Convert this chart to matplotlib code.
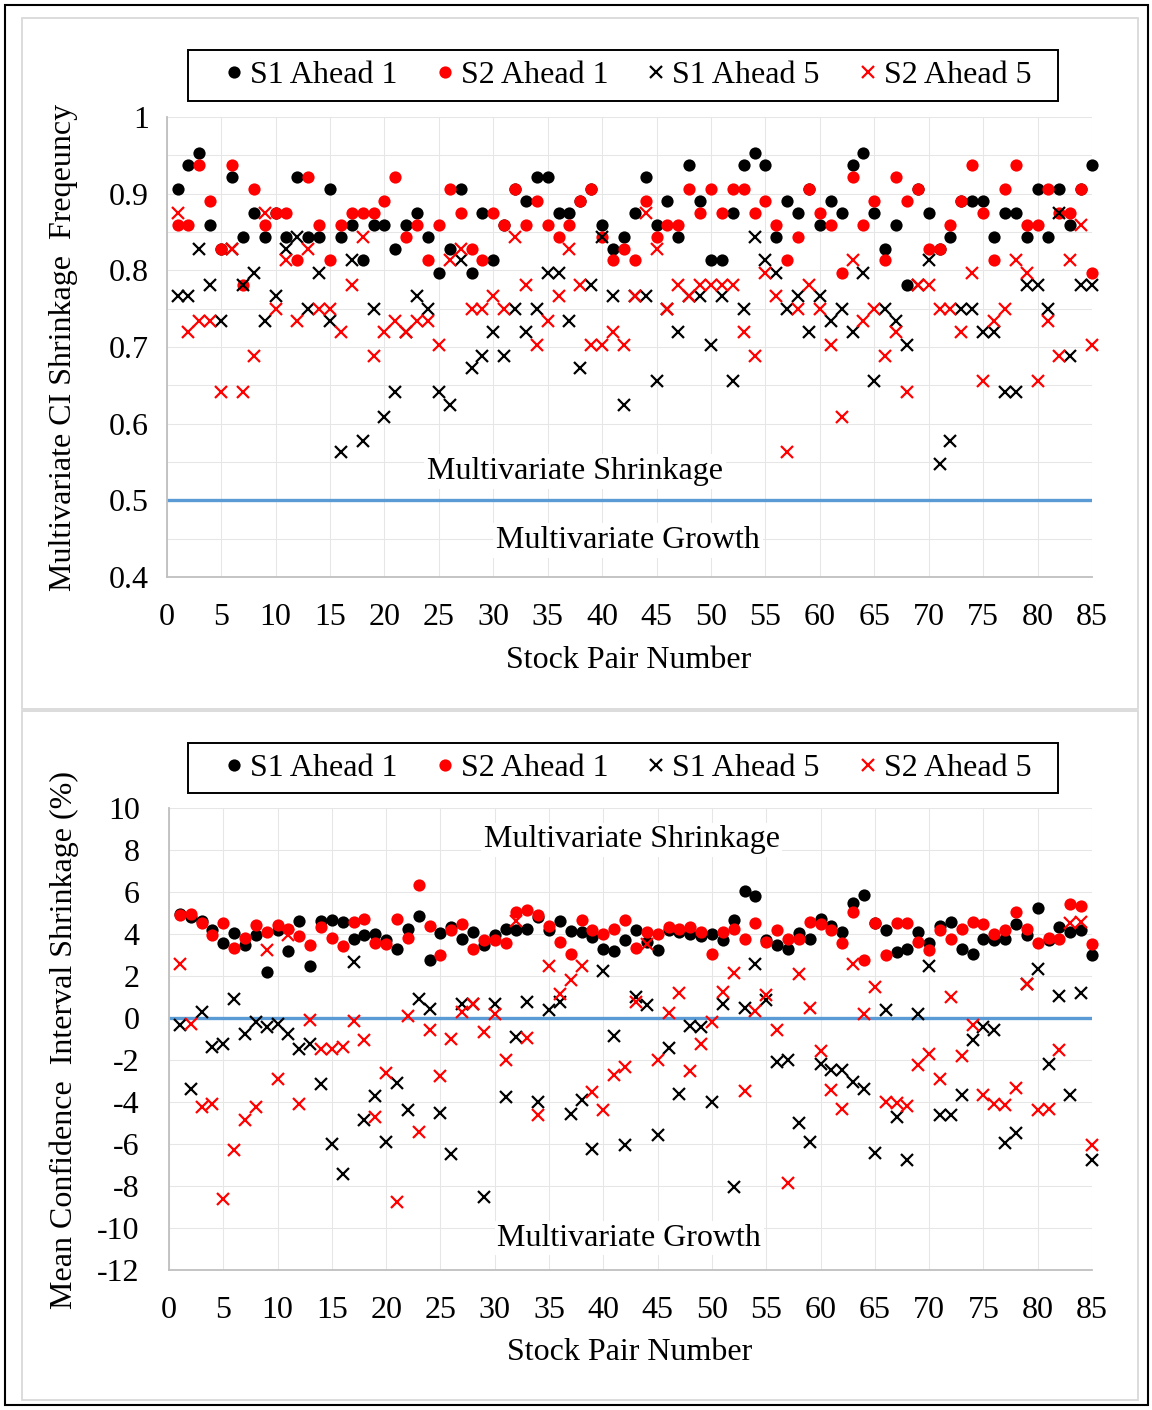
import matplotlib
matplotlib.use("Agg")
import matplotlib.pyplot as plt
from matplotlib.patches import Rectangle
from matplotlib.lines import Line2D
from matplotlib.ticker import MultipleLocator

plt.rcParams['font.family'] = ['Liberation Serif', 'DejaVu Serif']
plt.rcParams['axes.unicode_minus'] = False

pairs = list(range(1, 86))
series_names = ["S1 Ahead 1", "S2 Ahead 1", "S1 Ahead 5", "S2 Ahead 5"]

# ---------- Top panel: Multivariate CI shrinkage frequency ----------
freq_s1_a1 = [0.906, 0.938, 0.953, 0.859, 0.828, 0.922, 0.844, 0.875, 0.844, 0.875,
              0.844, 0.922, 0.844, 0.844, 0.906, 0.844, 0.859, 0.813, 0.859, 0.859,
              0.828, 0.859, 0.875, 0.844, 0.797, 0.828, 0.906, 0.797, 0.875, 0.813,
              0.859, 0.906, 0.891, 0.922, 0.922, 0.875, 0.875, 0.891, 0.906, 0.859,
              0.828, 0.844, 0.875, 0.922, 0.859, 0.891, 0.844, 0.938, 0.891, 0.813,
              0.813, 0.875, 0.938, 0.953, 0.938, 0.844, 0.891, 0.875, 0.906, 0.859,
              0.891, 0.875, 0.938, 0.953, 0.875, 0.828, 0.859, 0.781, 0.906, 0.875,
              0.828, 0.844, 0.891, 0.891, 0.891, 0.844, 0.875, 0.875, 0.844, 0.906,
              0.844, 0.906, 0.859, 0.906, 0.938]
freq_s2_a1 = [0.859, 0.859, 0.938, 0.891, 0.828, 0.938, 0.781, 0.906, 0.859, 0.875,
              0.875, 0.813, 0.922, 0.859, 0.813, 0.859, 0.875, 0.875, 0.875, 0.891,
              0.922, 0.844, 0.859, 0.813, 0.859, 0.906, 0.875, 0.828, 0.813, 0.875,
              0.859, 0.906, 0.859, 0.891, 0.859, 0.844, 0.859, 0.891, 0.906, 0.844,
              0.813, 0.828, 0.813, 0.891, 0.844, 0.859, 0.859, 0.906, 0.875, 0.906,
              0.875, 0.906, 0.906, 0.875, 0.891, 0.859, 0.813, 0.844, 0.906, 0.875,
              0.859, 0.797, 0.922, 0.859, 0.891, 0.813, 0.922, 0.891, 0.906, 0.828,
              0.828, 0.859, 0.891, 0.938, 0.875, 0.813, 0.906, 0.938, 0.859, 0.859,
              0.906, 0.875, 0.875, 0.906, 0.797]
freq_s1_a5 = [0.766, 0.766, 0.828, 0.781, 0.734, 0.828, 0.781, 0.797, 0.734, 0.766,
              0.828, 0.844, 0.750, 0.797, 0.734, 0.563, 0.813, 0.578, 0.750, 0.609,
              0.641, 0.719, 0.766, 0.750, 0.641, 0.625, 0.813, 0.672, 0.688, 0.719,
              0.688, 0.750, 0.719, 0.750, 0.797, 0.797, 0.734, 0.672, 0.781, 0.844,
              0.766, 0.625, 0.766, 0.766, 0.656, 0.750, 0.719, 0.766, 0.766, 0.703,
              0.766, 0.656, 0.750, 0.844, 0.813, 0.797, 0.750, 0.766, 0.719, 0.766,
              0.734, 0.750, 0.719, 0.797, 0.656, 0.750, 0.734, 0.703, 0.781, 0.813,
              0.547, 0.578, 0.750, 0.750, 0.719, 0.719, 0.641, 0.641, 0.781, 0.781,
              0.750, 0.875, 0.688, 0.781, 0.781]
freq_s2_a5 = [0.875, 0.719, 0.734, 0.734, 0.641, 0.828, 0.641, 0.688, 0.875, 0.750,
              0.813, 0.734, 0.828, 0.750, 0.750, 0.719, 0.781, 0.844, 0.688, 0.719,
              0.734, 0.719, 0.734, 0.734, 0.703, 0.813, 0.828, 0.750, 0.750, 0.766,
              0.750, 0.844, 0.781, 0.703, 0.734, 0.766, 0.828, 0.781, 0.703, 0.703,
              0.719, 0.703, 0.766, 0.875, 0.828, 0.750, 0.781, 0.766, 0.781, 0.781,
              0.781, 0.781, 0.719, 0.688, 0.797, 0.766, 0.563, 0.750, 0.781, 0.750,
              0.703, 0.609, 0.813, 0.734, 0.750, 0.688, 0.719, 0.641, 0.781, 0.781,
              0.750, 0.750, 0.719, 0.797, 0.656, 0.734, 0.750, 0.813, 0.797, 0.656,
              0.734, 0.688, 0.813, 0.859, 0.703]

# ---------- Bottom panel: mean CI shrinkage (%) ----------
mean_s1_a1 = [4.97, 4.81, 4.62, 4.17, 3.57, 4.05, 3.46, 3.94, 2.19, 4.17,
              3.19, 4.62, 2.46, 4.60, 4.65, 4.57, 3.78, 3.94, 4.02, 3.70,
              3.30, 4.25, 4.84, 2.78, 4.05, 4.33, 3.78, 4.10, 3.46, 3.94,
              4.25, 4.17, 4.25, 4.81, 4.17, 4.62, 4.14, 4.10, 3.86, 3.30,
              3.19, 3.70, 4.21, 3.62, 3.25, 4.17, 4.10, 3.98, 3.89, 4.02,
              3.70, 4.65, 6.05, 5.79, 3.70, 3.46, 3.30, 4.05, 3.78, 4.73,
              4.37, 4.10, 5.48, 5.84, 4.52, 4.17, 3.14, 3.30, 4.10, 3.57,
              4.37, 4.57, 3.30, 3.03, 3.78, 3.73, 3.78, 4.49, 3.94, 5.25,
              3.73, 4.33, 4.10, 4.21, 2.98]
mean_s2_a1 = [4.89, 4.94, 4.52, 3.94, 4.52, 3.35, 3.83, 4.41, 4.10, 4.41,
              4.25, 3.89, 3.46, 4.33, 3.83, 3.41, 4.57, 4.73, 3.57, 3.51,
              4.73, 3.83, 6.32, 4.37, 2.98, 4.17, 4.49, 3.30, 3.73, 3.73,
              3.57, 5.05, 5.13, 4.89, 4.37, 3.62, 3.03, 4.65, 4.17, 3.98,
              4.25, 4.65, 3.35, 4.10, 4.02, 4.33, 4.25, 4.33, 4.10, 3.03,
              4.10, 4.25, 3.78, 4.52, 3.62, 4.21, 3.78, 3.78, 4.57, 4.49,
              4.17, 3.57, 5.05, 2.78, 4.52, 2.98, 4.52, 4.52, 3.62, 3.25,
              4.21, 3.78, 4.25, 4.57, 4.49, 4.02, 4.17, 5.05, 4.25, 3.57,
              3.83, 3.78, 5.44, 5.32, 3.51]
mean_s1_a5 = [-0.35, -3.37, 0.29, -1.38, -1.22, 0.92, -0.78, -0.19, -0.43, -0.27,
              -0.78, -1.46, -1.22, -3.13, -5.98, -7.41, 2.67, -4.87, -3.73, -5.90,
              -3.10, -4.37, 0.92, 0.44, -4.52, -6.46, 0.65, 0.68, -8.52, 0.65,
              -3.76, -0.90, 0.76, -4.00, 0.37, 0.76, -4.56, -3.92, -6.22, 2.24,
              -0.87, -6.06, 1.00, 0.60, -5.59, -1.41, -3.63, -0.40, -0.43, -4.00,
              0.65, -8.05, 0.49, 2.56, 0.87, -2.10, -2.02, -5.00, -5.90, -2.17,
              -2.49, -2.46, -3.05, -3.37, -6.43, 0.40, -4.71, -6.75, 0.17, 2.46,
              -4.63, -4.63, -3.68, -1.06, -0.43, -0.56, -5.95, -5.48, 1.60, 2.35,
              -2.17, 1.03, -3.68, 1.19, -6.75]
mean_s2_a5 = [2.59, -0.27, -4.24, -4.08, -8.60, -6.30, -4.84, -4.24, 3.22, -2.89,
              3.94, -4.08, -0.08, -1.46, -1.46, -1.38, -0.14, -1.03, -4.71, -2.62,
              -8.76, 0.08, -5.43, -0.59, -2.78, -0.98, 0.29, 0.68, -0.67, 0.21,
              -1.98, 4.60, -0.94, -4.63, 2.46, 1.13, 1.83, 2.46, -3.52, -4.37,
              -2.73, -2.33, 0.76, 3.51, -1.98, 0.24, 1.19, -2.52, -1.25, -0.19,
              1.24, 2.14, -3.48, 0.33, 1.08, -0.56, -7.86, 2.08, 0.49, -1.57,
              -3.41, -4.32, 2.59, 0.21, 1.48, -4.00, -4.05, -4.21, -2.25, -1.70,
              -2.89, 1.00, -1.83, -0.35, -3.68, -4.08, -4.16, -3.32, 1.60, -4.37,
              -4.32, -1.51, 4.52, 4.57, -6.06]

W, H = 1152, 1410
fig = plt.figure(figsize=(W / 100, H / 100), dpi=100)


def fx(px):
    return px / W


def fy(py):
    return 1 - py / H


# Borders
fig.patches.append(Rectangle((fx(5), fy(1405)), fx(1143), 1400 / H, transform=fig.transFigure,
                             fill=False, edgecolor='black', linewidth=1.5, zorder=0))
fig.patches.append(Rectangle((fx(22), fy(709)), fx(1116), 691 / H, transform=fig.transFigure,
                             fill=False, edgecolor='#d9d9d9', linewidth=1.3, zorder=0))
fig.patches.append(Rectangle((fx(22), fy(1400)), fx(1116), 689 / H, transform=fig.transFigure,
                             fill=False, edgecolor='#d9d9d9', linewidth=1.3, zorder=0))

FS = 23
MS = 8.8

styles = [dict(marker='o', color='black', markersize=MS, markeredgewidth=0),
          dict(marker='o', color='#ff0000', markersize=MS, markeredgewidth=0),
          dict(marker='x', color='black', markersize=MS * 0.95, markeredgewidth=1.6),
          dict(marker='x', color='#ff0000', markersize=MS * 0.95, markeredgewidth=1.6)]


def setup_axes(ax):
    for s in ['top', 'right']:
        ax.spines[s].set_visible(False)
    for s in ['left', 'bottom']:
        ax.spines[s].set_color('#bfbfbf')
        ax.spines[s].set_linewidth(1.3)
    ax.set_xlim(0, 85)
    ax.xaxis.set_major_locator(MultipleLocator(5))
    ax.grid(True, which='both', color='#e6e6e6', linewidth=0.75, zorder=0)
    ax.set_axisbelow(True)
    ax.tick_params(axis='both', which='both', length=0, labelsize=FS)
    ax.tick_params(axis='x', pad=19)


def add_legend(ytop, ybot):
    fig.patches.append(Rectangle((fx(188), fy(ybot)), fx(1058) - fx(188), (ybot - ytop) / H,
                                 transform=fig.transFigure, fill=False, edgecolor='black',
                                 linewidth=1.4, zorder=2))
    handles = [Line2D([], [], linestyle='none', **st) for st in styles]
    fig.legend(handles, series_names, loc='center', ncol=4,
               bbox_to_anchor=(fx(626), fy((ytop + ybot) / 2)),
               bbox_transform=fig.transFigure, fontsize=FS, frameon=False,
               handletextpad=0.1, handlelength=0.8, columnspacing=1.1,
               borderpad=0.0, borderaxespad=0)


# ---- Top ----
ax1 = fig.add_axes([fx(166.7), fy(577), fx(1092) - fx(166.7), (577 - 117) / H])
setup_axes(ax1)
ax1.set_ylim(0.4, 1.0)
ax1.yaxis.set_minor_locator(MultipleLocator(0.05))
ax1.set_yticks([0.4, 0.5, 0.6, 0.7, 0.8, 0.9, 1.0])
ax1.set_yticklabels(['0.4', '0.5', '0.6', '0.7', '0.8', '0.9', '1'])
ax1.tick_params(axis='y', pad=13)
ax1.axhline(0.5, color='#5b9bd5', linewidth=2.4, zorder=1)
for vals, st in zip([freq_s1_a1, freq_s2_a1, freq_s1_a5, freq_s2_a5], styles):
    ax1.plot(pairs, vals, linestyle='none', zorder=3, clip_on=False, **st)
ax1.text(37.5, 0.538, 'Multivariate Shrinkage', fontsize=FS, ha='center', va='center', zorder=4,
         bbox=dict(facecolor='white', edgecolor='none', pad=2))
ax1.text(42.4, 0.448, 'Multivariate Growth', fontsize=FS, ha='center', va='center', zorder=4,
         bbox=dict(facecolor='white', edgecolor='none', pad=2))
add_legend(50, 101)
fig.text(fx(629), fy(660), 'Stock Pair Number', fontsize=FS, ha='center', va='center')
fig.text(fx(64), fy(347), 'Multivariate CI Shrinkage  Freqeuncy', fontsize=FS,
         ha='center', va='center', rotation=90)

# ---- Bottom ----
ax2 = fig.add_axes([fx(169), fy(1270), fx(1092) - fx(169), (1270 - 808) / H])
setup_axes(ax2)
ax2.set_ylim(-12, 10)
ax2.yaxis.set_major_locator(MultipleLocator(2))
ax2.tick_params(axis='y', pad=21)
ax2.axhline(0, color='#5b9bd5', linewidth=2.4, zorder=1)
for vals, st in zip([mean_s1_a1, mean_s2_a1, mean_s1_a5, mean_s2_a5], styles):
    ax2.plot(pairs, vals, linestyle='none', zorder=3, clip_on=False, **st)
ax2.text(42.6, 8.48, 'Multivariate Shrinkage', fontsize=FS, ha='center', va='center', zorder=4,
         bbox=dict(facecolor='white', edgecolor='none', pad=2))
ax2.text(42.4, -10.48, 'Multivariate Growth', fontsize=FS, ha='center', va='center', zorder=4,
         bbox=dict(facecolor='white', edgecolor='none', pad=2))
add_legend(743, 793)
fig.text(fx(630), fy(1352), 'Stock Pair Number', fontsize=FS, ha='center', va='center')
fig.text(fx(64), fy(1040), 'Mean Confidence  Interval Shrinkage (%)', fontsize=FS,
         ha='center', va='center', rotation=90)

fig.savefig('out.png', dpi=100, facecolor='white')
